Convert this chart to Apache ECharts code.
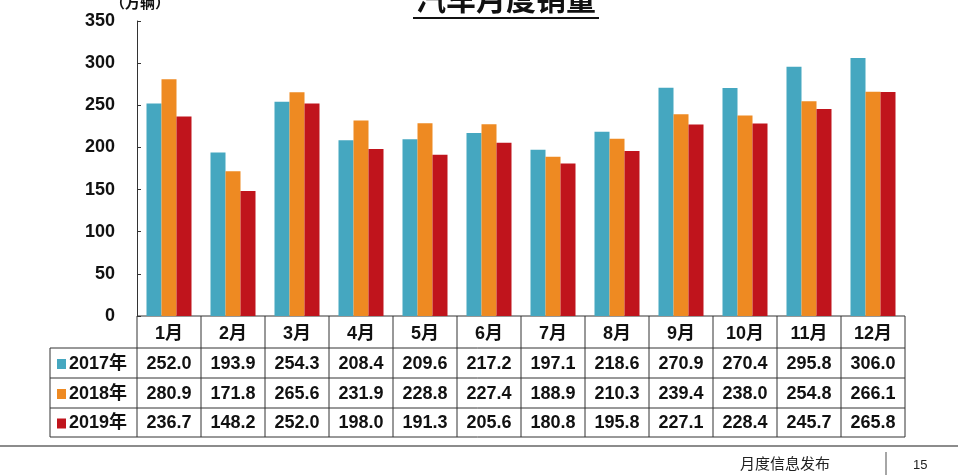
<!DOCTYPE html><html><head><meta charset="utf-8"><script src="https://cdn.jsdelivr.net/npm/echarts@6/dist/echarts.min.js"></script></head><body style="margin:0;background:#fff"><div id="c" style="width:958px;height:475px"></div><script>
const months=['1月','2月','3月','4月','5月','6月','7月','8月','9月','10月','11月','12月'];
const s2017=[252.0,193.9,254.3,208.4,209.6,217.2,197.1,218.6,270.9,270.4,295.8,306.0];
const s2018=[280.9,171.8,265.6,231.9,228.8,227.4,188.9,210.3,239.4,238.0,254.8,266.1];
const s2019=[236.7,148.2,252.0,198.0,191.3,205.6,180.8,195.8,227.1,228.4,245.7,265.8];
const names=['2017年','2018年','2019年'];
const colors=['#45A7C0','#EE8A22','#C0141C'];
const L=137,W=768,T=21,B=316;
const chart=echarts.init(document.getElementById('c'));
const ff='Liberation Sans, Noto Sans CJK SC, sans-serif';
const g=[];
const cw=W/12, rows=[348,378,408,437];
g.push({type:'line',shape:{x1:L,y1:B,x2:L+W,y2:B},style:{stroke:'#333',lineWidth:1}});
rows.forEach(y=>g.push({type:'line',shape:{x1:50,y1:y,x2:L+W,y2:y},style:{stroke:'#333',lineWidth:1}}));
g.push({type:'line',shape:{x1:50,y1:348,x2:50,y2:437},style:{stroke:'#333'}});
for(let i=0;i<=12;i++)g.push({type:'line',shape:{x1:L+i*cw,y1:B,x2:L+i*cw,y2:437},style:{stroke:'#333'}});
[s2017,s2018,s2019].forEach((arr,r)=>{
  const yc=(rows[r]+rows[r+1])/2+1;
  g.push({type:'rect',shape:{x:57,y:yc-5,width:9,height:10},style:{fill:colors[r]}});
  g.push({type:'text',x:69,y:yc,style:{text:names[r],font:'bold 18px '+ff,fill:'#111',verticalAlign:'middle'}});
  arr.forEach((v,i)=>g.push({type:'text',x:L+(i+0.5)*cw,y:yc,style:{text:v.toFixed(1),font:'bold 18px '+ff,fill:'#111',align:'center',verticalAlign:'middle'}}));
});
g.push({type:'text',x:506,y:-13,style:{text:'汽车月度销量',font:'bold 30px '+ff,fill:'#111',align:'center'}});
g.push({type:'line',shape:{x1:413,y1:18,x2:599,y2:18},style:{stroke:'#111',lineWidth:2}});
g.push({type:'text',x:110,y:-4,style:{text:'（万辆）',font:'bold 15px '+ff,fill:'#111'}});
g.push({type:'line',shape:{x1:0,y1:446,x2:958,y2:446},style:{stroke:'#666',lineWidth:1.5}});
g.push({type:'text',x:740,y:457,style:{text:'月度信息发布',font:'15px '+ff,fill:'#222'}});
g.push({type:'line',shape:{x1:886,y1:452,x2:886,y2:475},style:{stroke:'#888',lineWidth:1.5}});
g.push({type:'text',x:913,y:459,style:{text:'15',font:'13px '+ff,fill:'#222'}});
chart.setOption({animation:false,
 grid:{left:L,top:T,width:W,height:B-T},
 xAxis:{type:'category',data:months,axisLine:{show:false},axisTick:{show:false},
  axisLabel:{margin:9,fontSize:18,fontWeight:'bold',color:'#111',fontFamily:ff}},
 yAxis:{type:'value',min:0,max:350,interval:50,splitLine:{show:false},
  axisLine:{show:true,lineStyle:{color:'#333'}},axisTick:{show:true,inside:true,length:4,lineStyle:{color:'#333'}},
  axisLabel:{margin:22,fontSize:18,fontWeight:'bold',color:'#111',fontFamily:ff}},
 series:[s2017,s2018,s2019].map((d,i)=>({type:'bar',name:names[i],data:d,barWidth:15,barGap:'0%',itemStyle:{color:colors[i]}})),
 graphic:g});
</script></body></html>
